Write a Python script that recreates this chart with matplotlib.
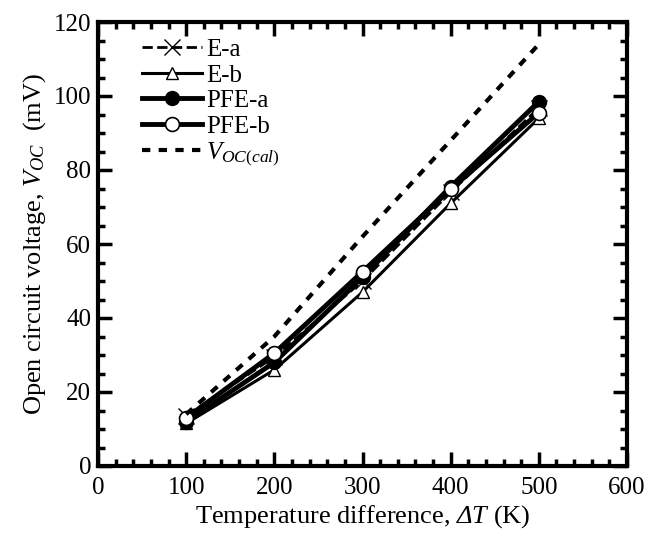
import matplotlib
matplotlib.use('Agg')
import matplotlib.pyplot as plt
from matplotlib.ticker import MultipleLocator

plt.rcParams['font.family'] = 'Liberation Serif'
plt.rcParams['mathtext.fontset'] = 'custom'
plt.rcParams['mathtext.rm'] = 'Liberation Serif'
plt.rcParams['mathtext.it'] = 'Liberation Serif:italic'
plt.rcParams['mathtext.sf'] = 'Liberation Serif:italic'

# data
dT = [100, 200, 300, 400, 500]
e_a = [13.5, 29.5, 50.0, 74.0, 96.8]
e_b = [11.5, 26.0, 47.0, 71.0, 94.0]
pfe_a = [12.0, 28.0, 51.0, 75.5, 98.5]
pfe_b = [13.0, 30.5, 52.5, 74.8, 95.5]
v_cal = [14.0, 35.0, 62.0, 88.0, 114.0]

fig = plt.figure(figsize=(6.45, 5.34), dpi=100)
ax = fig.add_axes([98/645, 1 - 466/534, 529/645, 444/534])

ax.plot(dT, e_a, '--', color='black', lw=2, marker='x', ms=11, mew=1.0,
        mfc='none', label='E-a')
ax.plot(dT, e_b, '-', color='black', lw=2.2, marker='^', ms=9, mew=1.0,
        mfc='white', label='E-b')
ax.plot(dT, pfe_a, '-', color='black', lw=3.5, marker='o', ms=10,
        mfc='black', label='PFE-a')
ax.plot(dT, pfe_b, '-', color='black', lw=3.5, marker='o', ms=10, mew=1.2,
        mfc='white', label='PFE-b')
ax.plot(dT, v_cal, '--', color='black', lw=3, dashes=(2, 2),
        label='$V_{OC(cal)}$')

ax.set_xlim(0, 600)
ax.set_ylim(0, 120)
ax.xaxis.set_major_locator(MultipleLocator(100))
ax.xaxis.set_minor_locator(MultipleLocator(20))
ax.yaxis.set_major_locator(MultipleLocator(20))
ax.yaxis.set_minor_locator(MultipleLocator(5))
ax.tick_params(which='both', direction='in', top=True, right=True,
               labelsize=18, width=2.5)
ax.tick_params(which='major', length=10, pad=5)
ax.tick_params(which='minor', length=5)
ax.tick_params(axis='x', which='major', pad=8)
for s in ax.spines.values():
    s.set_linewidth(3)

ax.set_xlabel(r'Temperature difference, $\mathsf{\Delta T}$ (K)', fontsize=19, labelpad=3)
ax.set_ylabel(r'Open circuit voltage, $V_{OC}$  (mV)', fontsize=19, labelpad=4)

ax.legend(loc='upper left', frameon=False, fontsize=18, handlelength=2.4,
          handletextpad=0.15, labelspacing=0.12, borderaxespad=0.0,
          bbox_to_anchor=(0.065, 0.985))

fig.savefig('out.png', dpi=100)
